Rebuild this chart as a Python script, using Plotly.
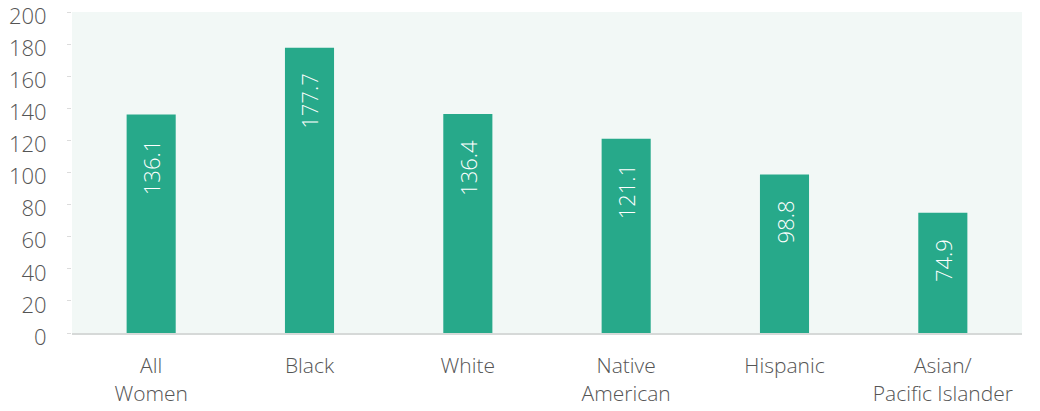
import plotly.graph_objects as go

categories = ["All<br>Women", "Black", "White", "Native<br>American", "Hispanic", "Asian/<br>Pacific Islander"]
values = [136.1, 177.7, 136.4, 121.1, 98.8, 74.9]
value_labels = ["136.1", "177.7", "136.4", "121.1", "98.8", "74.9"]
tick_values = [0, 20, 40, 60, 80, 100, 120, 140, 160, 180, 200]

bar_color = "#27a98a"
font_family = "'Open Sans', Lato, sans-serif"

fig = go.Figure()
fig.add_trace(go.Bar(
    x=categories, y=values, marker_color=bar_color, marker_line_width=0,
    width=0.31, hoverinfo="skip",
))

for c, v, t in zip(categories, values, value_labels):
    fig.add_annotation(
        x=c, y=v, text=t, textangle=-90, showarrow=False,
        yanchor="top", yshift=-24,
        font=dict(family=font_family, size=22, color="white", weight=300),
    )

fig.update_layout(
    width=1040, height=411,
    margin=dict(l=72, r=18, t=12, b=78),
    paper_bgcolor="white",
    plot_bgcolor="#f2f8f6",
    showlegend=False,
    font=dict(family=font_family, color="#555555"),
)
fig.update_xaxes(
    showgrid=False, zeroline=False, showline=True, linecolor="#d6d9d8", linewidth=2,
    ticks="", tickfont=dict(size=21, color="#555555", weight=300), ticklabelstandoff=13,
    automargin=False,
)
fig.update_yaxes(
    range=[0, 200], tickvals=tick_values, showgrid=False, zeroline=False,
    showline=False, ticks="outside", ticklen=4, tickcolor="#dcdcdc",
    tickfont=dict(size=22, color="#555555", weight=300), ticklabelstandoff=16,
    ticklabelshift=4, ticklabeloverflow="allow", automargin=False,
)

fig.write_html(
    "out.html",
    config={"displayModeBar": False},
    post_script="document.body.style.margin='0';document.body.style.overflow='hidden';",
)
